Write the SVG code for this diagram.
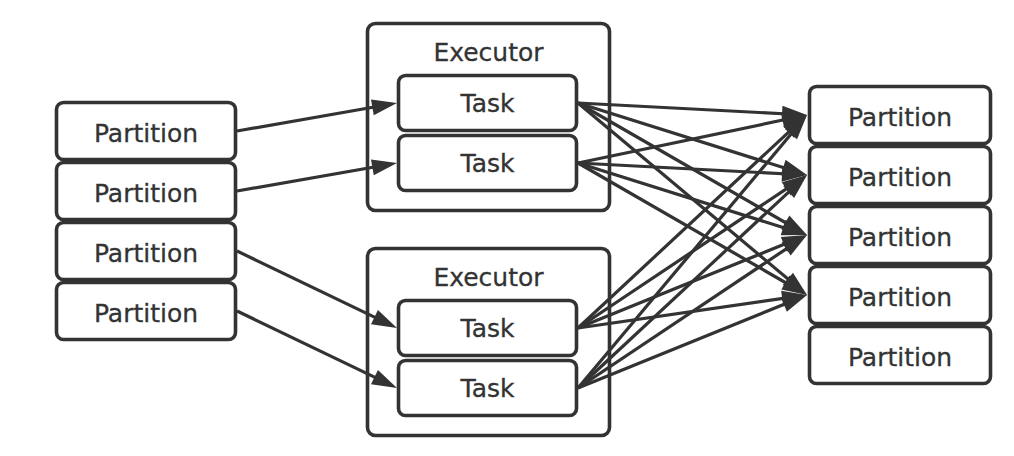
<svg xmlns="http://www.w3.org/2000/svg" width="1014" height="456" viewBox="0 0 1014 456">
  <style>
    .box { fill: #ffffff; stroke: #333333; stroke-width: 3.6; }
    .lbl { font-family: "DejaVu Sans", "Liberation Sans", sans-serif; font-size: 25px; fill: #333333; text-anchor: middle; stroke: #333333; stroke-width: 0.3; }
    .edge { stroke: #333333; stroke-width: 3.2; fill: none; marker-end: url(#arrow); }
  </style>
  <defs>
    <marker id="arrow" markerUnits="userSpaceOnUse" markerWidth="25" markerHeight="16" refX="15" refY="8" orient="auto" overflow="visible">
      <path d="M0,0 L25,8 L0,16 z" fill="#333333"/>
    </marker>
  </defs>
  <rect width="1014" height="456" fill="#ffffff"/>

  <!-- input partitions -->
  <g id="in-p1"><rect class="box" x="56.5" y="102.5" width="179" height="57" rx="7"/><text class="lbl" x="146" y="142">Partition</text></g>
  <g id="in-p2"><rect class="box" x="56.5" y="162.5" width="179" height="57" rx="7"/><text class="lbl" x="146" y="202">Partition</text></g>
  <g id="in-p3"><rect class="box" x="56.5" y="222.5" width="179" height="57" rx="7"/><text class="lbl" x="146" y="262">Partition</text></g>
  <g id="in-p4"><rect class="box" x="56.5" y="282.5" width="179" height="57" rx="7"/><text class="lbl" x="146" y="322">Partition</text></g>

  <!-- executor 1 -->
  <g id="executor-1">
    <rect class="box" x="367.5" y="23.5" width="242" height="187" rx="8"/>
    <text class="lbl" x="488.5" y="61">Executor</text>
  </g>
  <g id="e1-task1"><rect class="box" x="398.5" y="75.5" width="178" height="55" rx="7"/><text class="lbl" x="487.5" y="112">Task</text></g>
  <g id="e1-task2"><rect class="box" x="398.5" y="135.5" width="178" height="55" rx="7"/><text class="lbl" x="487.5" y="172">Task</text></g>

  <!-- executor 2 -->
  <g id="executor-2">
    <rect class="box" x="367.5" y="248.5" width="242" height="187" rx="8"/>
    <text class="lbl" x="488.5" y="286">Executor</text>
  </g>
  <g id="e2-task1"><rect class="box" x="398.5" y="300.5" width="178" height="55" rx="7"/><text class="lbl" x="487.5" y="337">Task</text></g>
  <g id="e2-task2"><rect class="box" x="398.5" y="360.5" width="178" height="55" rx="7"/><text class="lbl" x="487.5" y="397">Task</text></g>

  <!-- output partitions -->
  <g id="out-p1"><rect class="box" x="809.5" y="86.5" width="181" height="57" rx="7"/><text class="lbl" x="900" y="125.5">Partition</text></g>
  <g id="out-p2"><rect class="box" x="809.5" y="146.5" width="181" height="57" rx="7"/><text class="lbl" x="900" y="185.5">Partition</text></g>
  <g id="out-p3"><rect class="box" x="809.5" y="206.5" width="181" height="57" rx="7"/><text class="lbl" x="900" y="245.5">Partition</text></g>
  <g id="out-p4"><rect class="box" x="809.5" y="266.5" width="181" height="57" rx="7"/><text class="lbl" x="900" y="305.5">Partition</text></g>
  <g id="out-p5"><rect class="box" x="809.5" y="326.5" width="181" height="57" rx="7"/><text class="lbl" x="900" y="365.5">Partition</text></g>

  <!-- connectors: ends stop 10px short of the tip, the marker carries the tip -->
  <g id="connectors">
    <line class="edge" x1="237" y1="131" x2="387.15" y2="104.72"/>
    <line class="edge" x1="237" y1="191" x2="387.15" y2="164.72"/>
    <line class="edge" x1="237" y1="251" x2="387.99" y2="323.66"/>
    <line class="edge" x1="237" y1="311" x2="387.99" y2="383.66"/>

    <line class="edge" x1="578" y1="103" x2="797.01" y2="114.48"/>
    <line class="edge" x1="578" y1="103" x2="797.46" y2="172.00"/>
    <line class="edge" x1="578" y1="103" x2="798.34" y2="230.01"/>
    <line class="edge" x1="578" y1="103" x2="799.34" y2="288.58"/>

    <line class="edge" x1="578" y1="163" x2="797.21" y2="117.05"/>
    <line class="edge" x1="578" y1="163" x2="797.01" y2="174.48"/>
    <line class="edge" x1="578" y1="163" x2="797.46" y2="232.00"/>
    <line class="edge" x1="578" y1="163" x2="798.34" y2="290.01"/>

    <line class="edge" x1="578" y1="328" x2="799.68" y2="121.81"/>
    <line class="edge" x1="578" y1="328" x2="798.69" y2="180.56"/>
    <line class="edge" x1="578" y1="328" x2="797.74" y2="238.76"/>
    <line class="edge" x1="578" y1="328" x2="797.10" y2="296.43"/>

    <line class="edge" x1="578" y1="388" x2="800.57" y2="122.66"/>
    <line class="edge" x1="578" y1="388" x2="799.68" y2="181.81"/>
    <line class="edge" x1="578" y1="388" x2="798.69" y2="240.56"/>
    <line class="edge" x1="578" y1="388" x2="797.74" y2="298.76"/>
  </g>
</svg>
